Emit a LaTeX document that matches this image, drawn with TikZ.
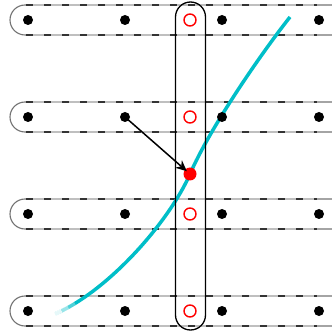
\documentclass[tikz,border=0pt]{standalone}
\usetikzlibrary{arrows.meta}
\definecolor{curvecyan}{RGB}{0,190,200}
\tikzset{
  rowbox/.style={draw=black!55, line width=1.1pt, rounded corners=15pt},
  rowgap/.style={draw=black!25, line width=1.1pt},
  rowdash/.style={draw=black!80, line width=1.1pt, dash pattern=on 7pt off 11pt},
  colbox/.style={draw=black, line width=1.3pt, rounded corners=15pt},
  bdot/.style={circle, fill=black, inner sep=0pt, minimum size=10pt},
  rring/.style={circle, draw=red, line width=1.4pt, inner sep=0pt, minimum size=12pt},
  rdot/.style={circle, fill=red, inner sep=0pt, minimum size=13pt},
  fadeseg/.style={draw=white, line width=4.2pt},
}
\begin{document}
\begin{tikzpicture}[x=1pt,y=-1pt]
\useasboundingbox (0,0) rectangle (332,331);
% row boxes
\foreach \y in {20,117,214,311}{
  \draw[rowbox] (10,\y-15) rectangle (347,\y+15);
  \draw[rowgap] (26,\y-15) -- (317,\y-15);
  \draw[rowgap] (26,\y+15) -- (317,\y+15);
  \draw[rowdash] (26,\y-15) -- (317,\y-15);
  \draw[rowdash] (26,\y+15) -- (317,\y+15);
}
% curve
\coordinate (c0) at (55,314);
\coordinate (cm) at (190,174);
\coordinate (c1) at (290,17);
\draw[curvecyan, line width=3.5pt] (c0) .. controls (110,290) and (170,220) .. (cm)
  .. controls (210,128) and (260,55) .. (c1);
% fading start of the curve
\draw[fadeseg, opacity=0.9] (54,314.5) -- (61.6,310.9);
\draw[fadeseg, opacity=0.6] (61.6,310.9) -- (68.3,307.4);
\draw[fadeseg, opacity=0.3] (68.3,307.4) -- (74.9,303.5);
% column box
\draw[colbox] (175.5,2) rectangle (205.5,330);
% dots
\foreach \y/\r in {20/a,117/b,214/c,311/d}{
  \node[bdot] (\r1) at (28,\y) {};
  \node[bdot] (\r2) at (125,\y) {};
  \node[rring] (\r3) at (190,\y) {};
  \node[bdot] (\r4) at (222,\y) {};
  \node[bdot] (\r5) at (319,\y) {};
}
\node[rdot] (p) at (cm) {};
\draw[black, line width=1.5pt, shorten >=-2.5pt, -{Stealth[length=11pt,width=10pt]}] (b2.center) -- (p);
\end{tikzpicture}
\end{document}
